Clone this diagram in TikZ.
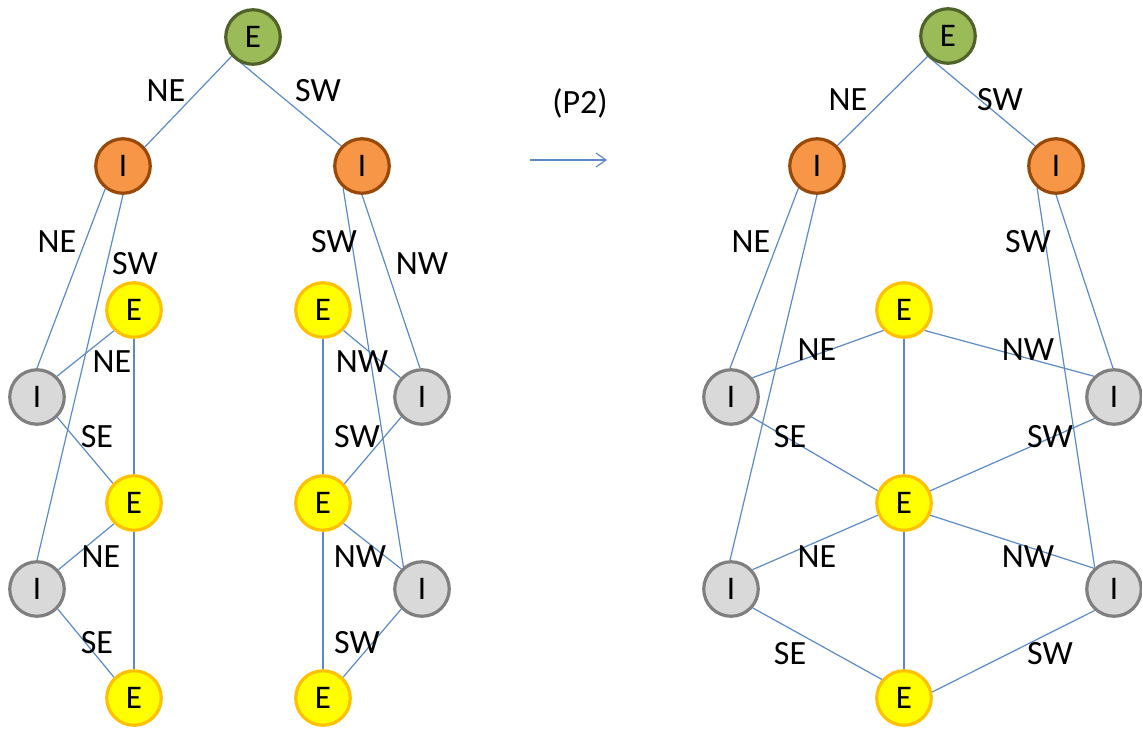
\documentclass[tikz,border=0pt]{standalone}
\usepackage{fontspec}
\setmainfont{Carlito}
\usetikzlibrary{arrows.meta,backgrounds}
\definecolor{gfill}{HTML}{9BBB59}
\definecolor{gline}{HTML}{4F6228}
\definecolor{ofill}{HTML}{F79646}
\definecolor{oline}{HTML}{984807}
\definecolor{yfill}{HTML}{FFFF00}
\definecolor{yline}{HTML}{FFC000}
\definecolor{grfill}{HTML}{D9D9D9}
\definecolor{grline}{HTML}{7F7F7F}
\definecolor{ecol}{HTML}{5B8AC6}
\begin{document}
\begin{tikzpicture}[x=1pt,y=-1pt,
  vtx/.style={circle,minimum size=54.5pt,inner sep=0pt,line width=3.2pt,font=\fontsize{33}{40}\selectfont},
  gE/.style={vtx,fill=gfill,draw=gline},
  oI/.style={vtx,fill=ofill,draw=oline},
  yE/.style={vtx,fill=yfill,draw=yline},
  gI/.style={vtx,fill=grfill,draw=grline},
  lbl/.style={font=\fontsize{34}{40}\selectfont,inner sep=0pt},
  edge/.style={draw=ecol,line width=1.2pt}]
\useasboundingbox (0,0) rectangle (1142,731);

% ---------- left graph ----------
\node[gE] (aE) at (253,37) {E};
\node[oI] (aIL) at (123,166) {I};
\node[oI] (aIR) at (362,166) {I};
\node[yE] (aE1) at (134,310) {E};
\node[yE] (aE2) at (134,503) {E};
\node[yE] (aE3) at (134,698) {E};
\node[gI] (aG1) at (37,397) {I};
\node[gI] (aG2) at (37,589) {I};
\node[yE] (aF1) at (323,310) {E};
\node[yE] (aF2) at (323,503) {E};
\node[yE] (aF3) at (323,698) {E};
\node[gI] (aH1) at (422,397) {I};
\node[gI] (aH2) at (422,589) {I};

\node[lbl] (la1) at (166,91) {NE};
\node[lbl] (la2) at (318,91) {SW};
\node[lbl] (la3) at (57,242) {NE};
\node[lbl] (la4) at (135,264) {SW};
\node[lbl] (la5) at (112,362) {NE};
\node[lbl] (la6) at (97,437) {SE};
\node[lbl] (la7) at (101,557) {NE};
\node[lbl] (la8) at (97,643) {SE};
\node[lbl] (la9) at (334,242) {SW};
\node[lbl] (la10) at (422,264) {NW};
\node[lbl] (la11) at (362,362) {NW};
\node[lbl] (la12) at (357,437) {SW};
\node[lbl] (la13) at (360,557) {NW};
\node[lbl] (la14) at (357,643) {SW};

% ---------- arrow ----------
\node[lbl] (p2) at (580,103) {(P2)};
\coordinate (arS) at (530,160);
\coordinate (arE) at (607,160);
\draw[edge,-{Straight Barb[length=10pt,width=14pt,line width=1.2pt]}] (arS) -- (arE);

% ---------- right graph ----------
\node[gE] (bE) at (948,36) {E};
\node[oI] (bIL) at (817,166) {I};
\node[oI] (bIR) at (1056,166) {I};
\node[yE] (bE1) at (904,310) {E};
\node[yE] (bE2) at (904,503) {E};
\node[yE] (bE3) at (904,698) {E};
\node[gI] (bG1) at (731,397) {I};
\node[gI] (bG2) at (731,589) {I};
\node[gI] (bH1) at (1114,397) {I};
\node[gI] (bH2) at (1114,589) {I};

\node[lbl] (lb1) at (848,100) {NE};
\node[lbl] (lb2) at (1000,100) {SW};
\node[lbl] (lb3) at (751,242) {NE};
\node[lbl] (lb4) at (1028,242) {SW};
\node[lbl] (lb5) at (817,350) {NE};
\node[lbl] (lb6) at (1028,350) {NW};
\node[lbl] (lb7) at (790,437) {SE};
\node[lbl] (lb8) at (1050,437) {SW};
\node[lbl] (lb9) at (817,557) {NE};
\node[lbl] (lb10) at (1028,557) {NW};
\node[lbl] (lb11) at (790,654) {SE};
\node[lbl] (lb12) at (1050,654) {SW};

\begin{scope}[on background layer]
% left graph edges
\draw[edge] (aE.222) -- (aIL.41);
\draw[edge] (aE.214) -- (aIR.136);
\draw[edge] (aIL.232) -- (aG1.90);
\draw[edge] (aIL.270) -- (aG2.90);
\draw[edge] (aE1.226) -- (aG1.46);
\draw[edge] (aG1.315) -- (aE2.137);
\draw[edge] (aE2.226) -- (aG2.42);
\draw[edge] (aG2.316) -- (aE3.134);
\draw[edge] (aE1.270) -- (aE2.90);
\draw[edge] (aE2.270) -- (aE3.90);
\draw[edge] (aIR.229) -- (aH2.130);
\draw[edge] (aIR.270) -- (aH1.94);
\draw[edge] (aF1.315) -- (aH1.138);
\draw[edge] (aH1.224) -- (aF2.42);
\draw[edge] (aF2.315) -- (aH2.136);
\draw[edge] (aH2.224) -- (aF3.46);
\draw[edge] (aF1.270) -- (aF2.90);
\draw[edge] (aF2.270) -- (aF3.90);
% right graph edges
\draw[edge] (bE.225) -- (bIL.45);
\draw[edge] (bE.222) -- (bIR.136);
\draw[edge] (bIL.230) -- (bG1.92);
\draw[edge] (bIL.270) -- (bG2.92);
\draw[edge] (bIR.229) -- (bH2.132);
\draw[edge] (bIR.270) -- (bH1.92);
\draw[edge] (bE1.225) -- (bG1.42);
\draw[edge] (bE1.315) -- (bH1.134);
\draw[edge] (bG1.316) -- (bE2.155);
\draw[edge] (bH1.228) -- (bE2.25);
\draw[edge] (bE2.205) -- (bG2.42);
\draw[edge] (bE2.335) -- (bH2.134);
\draw[edge] (bG2.319) -- (bE3.140);
\draw[edge] (bH2.228) -- (bE3.12);
\draw[edge] (bE1.270) -- (bE2.90);
\draw[edge] (bE2.270) -- (bE3.90);
\end{scope}
\end{tikzpicture}
\end{document}
